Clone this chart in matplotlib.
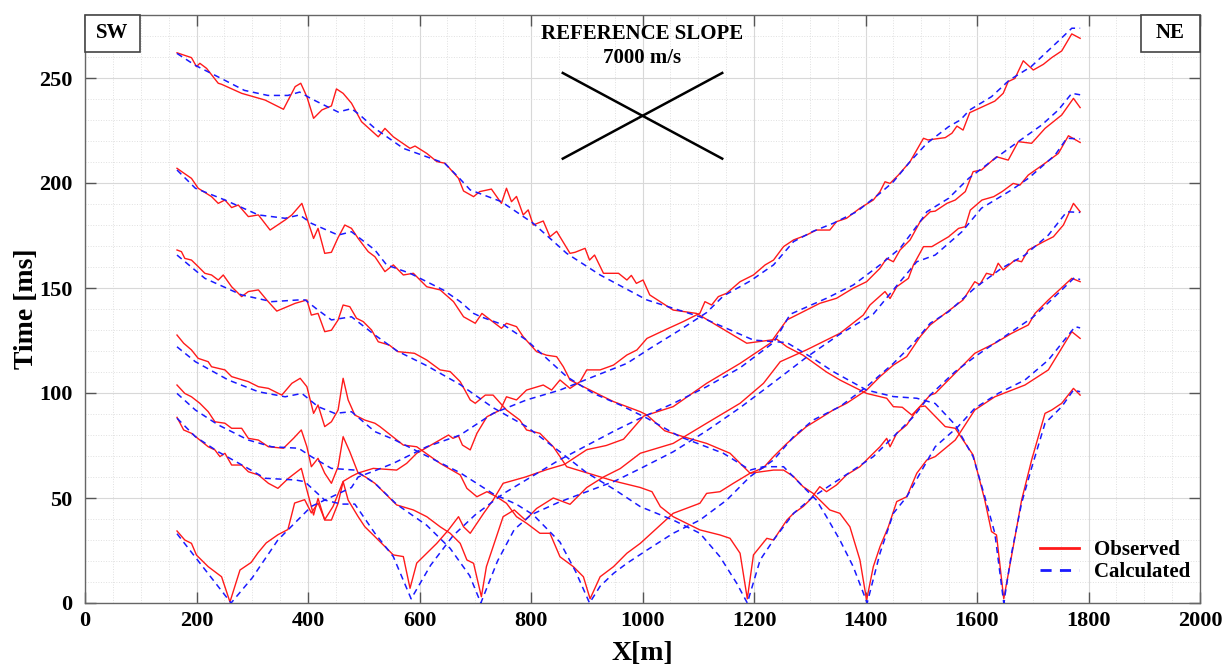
import matplotlib
matplotlib.use("Agg")
import matplotlib.pyplot as plt
from matplotlib.patches import Rectangle
from matplotlib.ticker import MultipleLocator

# ---------------- data: (x [m], time [ms]) ----------------
# Shot A (x~260)
A_obs = [(165,34.3),(179,30),(191,28.4),(200,22.8),(221,17.3),(245,12.5),(260,0.5),(278,15.7),(298,19.3),
         (310,23.8),(325,28.6),(346,32.5),(364,35),(376,47.6),(394,49.2),(406,42.9),(418,47.6),(430,39.7),
         (445,46),(463,57.9),(478,60.3),(490,61.9),(517,64.1),(559,63.3),(577,66.5),(595,71.3),(652,80),
         (660,78.4),(670,79.5),(677,75.2),(691,72.9),(703,80.8),(721,88.7),(745,91.9),(756,98.2),(774,96.7),
         (792,101.4),(822,103.8),(837,101.4),(852,106.2),(870,102.2),(888,105.4),(900,111),(924,111),
         (948,113.3),(972,118.1),(990,120.5),(1008,126),(1040,130),(1073,134),(1103,138),(1112,143.5),
         (1124,141.9),(1136,145.9),(1151,147.5),(1175,153),(1199,156.2),(1220,161),(1235,163.3),(1253,169.7),
         (1271,172.9),(1294,175.2),(1312,177.6),(1336,177.6),(1348,181.6),(1366,183.2),(1390,188),(1414,191.9),
         (1426,195.9),(1435,200.6),(1444,199.8),(1459,203.8),(1480,210.2),(1504,221.3),(1512,220.5),(1543,221.6),
         (1555,223.7),(1564,227.1),(1575,225.2),(1587,233.5),(1614,236.8),(1632,239),(1647,242.7),(1656,248.3),
         (1668,249.8),(1683,258.2),(1701,253.8),(1719,256.5),(1734,259.7),(1752,262.9),(1770,271),(1785,268.9)]
A_cal = [(165,33),(262,0),(300,12),(346,30),(406,46),(430,49),(478,55),(490,60),(520,63),(553,66.5),(613,74.4),
         (673,80),(732,90.3),(792,96.7),(852,101.4),(912,107.8),(972,114.1),(1014,121.3),(1067,130),(1115,138.3),
         (1145,146.2),(1193,153.3),(1235,161),(1271,172.1),(1306,177),(1342,180.8),(1384,186.3),(1426,195.1),
         (1450,200.6),(1480,210.2),(1510,218.9),(1549,226.8),(1570,230),(1587,234.8),(1626,241.1),(1658,249),
         (1697,255.4),(1746,267.6),(1770,273.7),(1785,273.7)]

# Shot B (x~585)
B_obs = [(165,88.4),(177,82.4),(191,80.8),(206,77.6),(221,74.4),(233,72.9),(242,69.7),(251,71.3),(263,65.7),
         (281,65.7),(293,62.5),(311,61),(329,57),(346,54.6),(365,59.4),(388,64.1),(398,53.8),(410,41.9),(418,49.8),
         (430,39.5),(442,39.5),(454,47.5),(463,57.8),(472,49),(490,41.1),(502,36.3),(520,31.6),(553,22.9),
         (571,22.1),(583,7),(595,19),(613,23.7),(631,28.4),(652,34.8),(670,41.1),(679,36.3),(691,33.2),(715,42.7),
         (732,49),(750,57),(790,60),(828,63.5),(860,66),(900,73),(935,75),(966,78),(1002,89),(1055,93.5),
         (1115,104.6),(1175,114.1),(1229,123.7),(1259,134.8),(1318,142.7),(1348,145.1),(1378,149.9),(1402,153),
         (1426,159.4),(1438,164.1),(1450,162.5),(1462,168.1),(1480,172.9),(1498,181.6),(1516,186.3),(1525,186.6),
         (1546,190.3),(1561,191.9),(1579,195.9),(1593,205.4),(1608,206.2),(1635,212.5),(1656,210.9),(1674,219.7),
         (1698,218.9),(1722,226),(1752,232.4),(1773,240.3),(1785,235.9)]
B_cal = [(165,88),(198,79.2),(239,72),(287,64.9),(323,59.4),(377,58.6),(394,57.8),(430,49),(460,47.1),(484,47.1),
         (520,33.2),(553,22.1),(585,2),(620,18),(660,32),(700,42),(750,52),(800,60),(850,68),(900,75),(950,82),
         (996,88),(1055,95),(1115,103),(1175,112),(1235,124),(1265,137.5),(1330,145.1),(1378,151.4),(1426,161),
         (1462,168.9),(1498,181.6),(1510,186.3),(1549,192.7),(1585,202.2),(1633,211.8),(1674,219.7),(1716,227.6),
         (1746,234.8),(1770,242.7),(1785,242)]

# Shot C (x~710)
C_obs = [(165,103.8),(179,99.8),(191,98.2),(206,95.1),(221,91.1),(233,86.3),(251,85.6),(263,83.2),(281,83.2),
         (293,78.4),(311,77.6),(329,74.4),(356,73.7),(374,78.4),(388,82.4),(398,74.4),(406,64.9),(418,68.9),
         (430,61.8),(442,57),(454,64.9),(463,79.2),(475,72),(490,61.8),(502,60.2),(520,57),(559,46.7),(589,44.3),
         (613,41.1),(637,36.3),(655,33.2),(673,28.4),(685,20.5),(697,18.9),(711,3),(720,17.3),(732,26.8),
         (750,41.1),(770,44.3),(790,39.5),(810,45),(840,50),(870,47),(900,55),(930,60),(960,64),(996,71.3),
         (1055,76),(1115,85.6),(1175,95.1),(1217,104.6),(1247,114.9),(1294,120.5),(1354,128.4),(1396,137.1),
         (1408,141.9),(1435,148.3),(1444,145),(1456,150.6),(1477,154.6),(1486,161),(1504,169.7),(1519,169.7),
         (1549,174.4),(1567,178.4),(1579,179.2),(1588,187.1),(1609,191.9),(1630,193.5),(1645,195.9),(1665,199.8),
         (1677,199),(1692,203.8),(1722,209.4),(1746,214.1),(1764,222.5),(1785,219.3)]
C_cal = [(165,99.8),(198,91.9),(239,84.8),(293,77.6),(335,74.4),(383,73.7),(406,69.7),(442,64.1),(484,63.3),
         (520,57),(559,47),(613,37),(655,26),(690,13),(710,0),(740,20),(770,35),(800,42),(850,48),(900,53),
         (950,58),(996,64),(1055,72),(1115,82),(1175,93),(1235,105),(1294,117),(1354,128),(1414,137.6),
         (1462,153),(1492,162.5),(1525,165.7),(1573,176.8),(1608,188),(1662,196.7),(1692,202.2),(1740,213.3),
         (1761,221.3),(1785,221)]

# Shot D (x~905)
D_obs = [(165,127.6),(177,123.7),(191,120.5),(203,116.5),(221,114.9),(227,112.5),(251,111),(263,107.8),(293,105.4),
         (311,103),(329,102.2),(353,99),(371,104.6),(386,107),(398,103),(410,90.3),(418,94.3),(430,84),(442,86.3),
         (454,91.9),(463,107),(472,96.7),(484,89.5),(502,87.1),(520,85.6),(529,84),(571,75.2),(595,74.4),
         (637,66.5),(673,61),(685,54.6),(703,50.6),(721,53),(738,50.6),(756,47.5),(774,41.1),(792,38),(816,33.2),
         (834,33.2),(852,22),(876,17.3),(894,12.5),(906,2),(924,12.5),(948,17.3),(972,23.7),(996,28.4),
         (1055,42.7),(1103,47.5),(1115,52.2),(1139,53),(1163,57),(1193,61.8),(1217,64.4),(1235,69.7),(1259,76),
         (1294,84),(1318,87.9),(1342,91.9),(1366,95.1),(1402,101.4),(1426,107.8),(1450,113.3),(1474,117.3),
         (1498,126.8),(1516,132.4),(1543,137.9),(1575,144.3),(1596,153),(1605,151.6),(1617,157),(1629,156.2),
         (1638,161.8),(1647,158.6),(1668,163.3),(1680,162.5),(1692,168.1),(1719,172),(1737,174.4),(1755,180),
         (1773,190.3),(1785,186.3)]
D_cal = [(165,122),(198,114.9),(257,106.2),(311,100.6),(359,98.2),(389,99.8),(418,93.5),(448,90.3),(478,91.1),
         (520,81.6),(553,78),(613,70),(673,62),(732,52),(774,47),(804,42),(852,29),(880,15),(905,0),(924,8),
         (948,14.1),(972,18.9),(1008,25.2),(1055,33.2),(1103,39.5),(1151,49),(1193,60.2),(1235,68.1),(1271,79.2),
         (1306,87.1),(1354,93.5),(1402,103),(1450,114.1),(1486,123.7),(1516,133.2),(1549,138.7),(1596,150),
         (1644,159.4),(1686,165.7),(1728,175.2),(1761,186.3),(1785,186)]

# Shot E (x~1188)
E_obs = [(165,168.1),(173,167.3),(179,164.1),(191,163.3),(203,160.2),(215,157),(227,156.2),(239,153.8),(248,156.2),
         (263,150.6),(281,145.9),(293,148.3),(311,149.1),(326,144.3),(344,139),(377,142.7),(398,144.3),(406,137.1),
         (418,137.9),(430,129.2),(442,129.9),(454,134.8),(463,141.9),(475,141.1),(487,135.6),(499,134),(514,130),
         (526,124.4),(546,122.8),(561,119.7),(591,118.9),(613,115.7),(637,111),(655,110.2),(673,105.4),(691,96.7),
         (700,95.1),(718,99),(732,99),(756,91.9),(780,87.1),(792,82.4),(816,80.8),(840,74.4),(852,69.7),(864,64.9),
         (900,62),(950,58),(996,55),(1017,53),(1032,45.9),(1055,41.1),(1103,34.8),(1139,32.4),(1157,30.8),
         (1175,23.7),(1188,2),(1199,22.9),(1223,30.8),(1235,30),(1259,39.5),(1271,42.7),(1288,45.9),(1300,49),
         (1318,55.4),(1330,53),(1348,56.2),(1366,61),(1390,64.9),(1408,69.7),(1426,74.4),(1438,78.4),(1444,74.4),
         (1456,80.8),(1474,84.8),(1492,91.9),(1516,99),(1525,99.8),(1596,118.9),(1632,123.7),(1662,128.4),
         (1692,132.4),(1704,137.9),(1728,144.3),(1770,154.6),(1785,153)]
E_cal = [(165,165.7),(215,154.6),(281,146.7),(335,143.5),(382,144.3),(395,144.3),(418,139.5),(442,134.8),
         (478,136.3),(520,127.6),(560,120),(613,113),(673,104),(732,93),(792,84),(852,72),(900,62),(950,54),
         (996,45.9),(1055,39.5),(1103,33.2),(1139,22),(1169,9.4),(1188,0),(1211,20.5),(1235,30),(1271,42.7),
         (1306,50.6),(1342,57),(1378,63.3),(1414,69.7),(1450,79.2),(1486,88.7),(1516,99),(1560,110),(1600,118),
         (1650,127),(1700,136),(1740,146),(1775,155),(1785,154)]

# Shot F (x~1403)
F_obs = [(165,207),(173,205.5),(191,202.2),(203,197.5),(227,193.5),(239,190.3),(251,191.9),(263,188.3),(275,189.5),
         (293,184),(311,184.8),(332,177.6),(359,182.4),(371,184.8),(389,190.3),(398,183.2),(410,173.6),(418,178.4),
         (430,166.5),(442,167),(454,174),(466,180),(478,178.4),(490,173.6),(508,167.3),(520,164.9),(538,157.8),
         (553,161),(571,156.2),(589,157),(613,150.6),(637,149.1),(661,143.5),(679,136.3),(700,133.2),(712,137.9),
         (747,130.8),(756,133.2),(774,131.6),(786,126.8),(810,119.7),(828,118),(846,117.3),(858,112.5),(870,106.2),
         (924,99),(948,95.9),(972,93.5),(996,91.1),(1008,89.5),(1040,82),(1073,79.2),(1115,76),(1157,71.3),
         (1193,61.8),(1235,63.3),(1253,63.3),(1271,60.2),(1288,55.4),(1306,52.2),(1336,44.3),(1354,42.7),
         (1372,36.3),(1390,20.5),(1402,1.4),(1414,17.3),(1426,26.8),(1441,36.3),(1456,48.3),(1474,50.6),
         (1492,61.8),(1510,68.1),(1525,69.7),(1561,77.6),(1596,91.9),(1632,98.2),(1686,103.8),(1728,111),
         (1770,129.2),(1785,126)]
F_cal = [(165,206.2),(198,197.5),(251,191.9),(311,184.8),(359,183.2),(385,184.8),(406,180.8),(454,175.2),
         (478,176.8),(520,168.1),(541,161),(583,157),(613,153),(643,149),(673,143.5),(697,137.9),(710,136.3),
         (751,132.4),(792,125.2),(828,116.5),(864,107.8),(912,99.8),(960,94.3),(1008,88),(1067,79.2),(1145,71.3),
         (1193,63.3),(1217,64.9),(1253,64.9),(1288,55.4),(1312,49),(1330,41.1),(1354,30),(1378,17.3),(1403,0),
         (1426,23.7),(1450,42.7),(1474,50.6),(1498,61.8),(1525,74.4),(1566,84),(1596,92.7),(1638,99.8),
         (1686,106.2),(1728,115.7),(1776,131.6),(1785,131)]

# Shot G (x~1648)
G_obs = [(165,262),(191,259.7),(200,255.4),(206,257),(218,254.6),(239,247.5),(245,247),(281,242.7),(323,239.5),
         (356,235.1),(377,245.9),(387,247.5),(398,241.1),(410,230.8),(425,234.8),(442,236.7),(451,244.8),
         (463,242.7),(478,238),(496,229.2),(526,222),(538,226),(553,222),(583,216.5),(592,217.6),(613,214.1),
         (631,210.2),(646,209.4),(670,202.2),(679,196.2),(697,193.5),(708,195.9),(729,197.1),(747,190.3),
         (756,197.5),(765,191.1),(774,193.6),(786,184.8),(795,187.2),(804,180),(822,181.9),(834,174.4),(846,177),
         (870,166.5),(879,167),(897,168.9),(905,163.3),(914,165.7),(930,157),(957,157),(972,153.8),(980,156),
         (989,152.2),(1001,153.8),(1013,146.7),(1055,139.5),(1097,137.9),(1127,133.2),(1187,123.7),(1241,125.6),
         (1259,122),(1288,118),(1330,110),(1354,106.2),(1402,99.8),(1438,97.5),(1450,93.5),(1466,93.2),
         (1483,89.5),(1498,93.5),(1507,93.8),(1543,84),(1561,83.2),(1575,77.6),(1593,70.5),(1614,49),(1626,34),
         (1635,32.4),(1648,2),(1665,26.8),(1680,49),(1698,68.1),(1722,90.3),(1734,91.9),(1752,95.1),(1773,102.2),
         (1785,99)]
G_cal = [(165,261.7),(198,256),(239,250.5),(286,244.1),(328,241.7),(364,241.7),(385,243.3),(406,240.1),
         (454,233.8),(478,235.4),(493,232.4),(520,226),(571,216.5),(645,209.4),(669,203),(691,196.7),(747,191.1),
         (804,180.8),(864,166.5),(924,156.2),(1008,144.3),(1103,136.3),(1199,125.2),(1259,124),(1306,116.5),
         (1342,110.2),(1402,101.4),(1450,98.3),(1492,97.5),(1525,95),(1561,84.8),(1593,69.7),(1614,50.6),
         (1632,33.2),(1648,0),(1662,23.7),(1680,47.6),(1698,64.4),(1722,85.6),(1752,93.5),(1773,101.4),(1785,100.6)]

observed = [A_obs, B_obs, C_obs, D_obs, E_obs, F_obs, G_obs]
calculated = [A_cal, B_cal, C_cal, D_cal, E_cal, F_cal, G_cal]

# reference slope (7000 m/s) cross
ref_x = [857, 1143]
ref_t_down = [252.4, 211.6]
ref_t_up = [211.6, 252.4]

x_ticks = [0, 200, 400, 600, 800, 1000, 1200, 1400, 1600, 1800, 2000]
y_ticks = [0, 50, 100, 150, 200, 250]

# ---------------- plotting ----------------
plt.rcParams['font.family'] = ['Liberation Serif', 'DejaVu Serif']
plt.rcParams['font.weight'] = 'bold'

fig = plt.figure(figsize=(12.23, 6.66), dpi=100)
ax = fig.add_axes([85/1223, 1-603/666, 1115/1223, 588/666])

for i, (obs, cal) in enumerate(zip(observed, calculated)):
    ox, ot = zip(*obs)
    cx, ct = zip(*cal)
    ax.plot(ox, ot, color='#ff1a1a', lw=1.0, zorder=3, label='Observed' if i == 0 else None)
    ax.plot(cx, ct, color='#1a1aff', lw=1.1, ls=(0, (4, 3)), zorder=4, label='Calculated' if i == 0 else None)

ax.plot(ref_x, ref_t_down, color='black', lw=1.8, zorder=5)
ax.plot(ref_x, ref_t_up, color='black', lw=1.8, zorder=5)
ax.text(1000, 271, 'REFERENCE SLOPE', ha='center', va='center', fontsize=15, fontweight='bold')
ax.text(1000, 259.5, '7000 m/s', ha='center', va='center', fontsize=15, fontweight='bold')

ax.set_xlim(0, 2000)
ax.set_ylim(0, 280)
ax.set_xticks(x_ticks)
ax.set_yticks(y_ticks)
ax.xaxis.set_minor_locator(MultipleLocator(50))
ax.yaxis.set_minor_locator(MultipleLocator(10))
ax.grid(which='major', color='#d8d8d8', lw=0.8, ls='-')
ax.grid(which='minor', color='#e0e0e0', lw=0.7, ls=':')
ax.set_axisbelow(True)
ax.tick_params(which='major', direction='in', length=8, width=1, top=True, right=True,
               labelsize=16, color='#555555')
ax.tick_params(axis='x', which='major', pad=6)
ax.tick_params(axis='y', which='major', pad=9)
ax.tick_params(which='minor', length=0, top=True, right=True)
for lab in ax.get_xticklabels() + ax.get_yticklabels():
    lab.set_fontweight('bold')
for s in ax.spines.values():
    s.set_color('#666666')
    s.set_linewidth(1.0)

ax.set_xlabel('X[m]', fontsize=20, fontweight='bold', labelpad=7)
ax.set_ylabel('Time [ms]', fontsize=20, fontweight='bold', labelpad=0)

# SW / NE boxes
bw_sw = 55/1115
bw_ne = 59/1115
bh = 37/588
ax.add_patch(Rectangle((0, 1-bh), bw_sw, bh, transform=ax.transAxes, fill=True, facecolor='white',
                       edgecolor='#444444', lw=1.2, zorder=6, clip_on=False))
ax.text(bw_sw/2, 1-bh/2, 'SW', transform=ax.transAxes, ha='center', va='center', fontsize=15,
        fontweight='bold', zorder=7)
ax.add_patch(Rectangle((1-bw_ne, 1-bh), bw_ne, bh, transform=ax.transAxes, fill=True, facecolor='white',
                       edgecolor='#444444', lw=1.2, zorder=6, clip_on=False))
ax.text(1-bw_ne/2, 1-bh/2, 'NE', transform=ax.transAxes, ha='center', va='center', fontsize=15,
        fontweight='bold', zorder=7)

leg = ax.legend(loc='lower right', bbox_to_anchor=(1.008, 0.003), frameon=False,
                prop={'weight': 'bold', 'size': 15}, handlelength=1.9, handletextpad=0.7,
                labelspacing=0.1)
for h in leg.get_lines():
    h.set_linewidth(2.0)

fig.savefig('out.png', dpi=100)
